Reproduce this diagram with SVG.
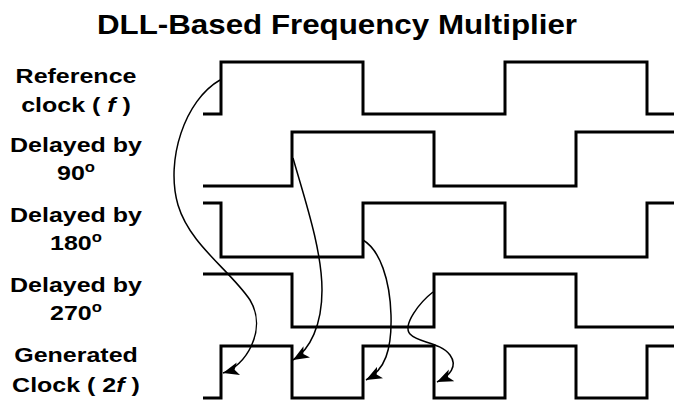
<svg xmlns="http://www.w3.org/2000/svg" width="674" height="403" viewBox="0 0 674 403">
<style>
.t{font-family:"Liberation Sans",Arial,sans-serif;font-weight:bold;fill:#000}
.lbl{font-size:21px;text-anchor:middle}
.sup{font-size:14px}
.w{fill:none;stroke:#000;stroke-width:3;stroke-linejoin:miter;stroke-linecap:butt}
.c{fill:none;stroke:#000;stroke-width:1.5}
</style>
<defs>
<marker id="ah" markerUnits="userSpaceOnUse" markerWidth="18" markerHeight="14" refX="16" refY="6.5" orient="auto">
<path d="M0,0 L16,6.5 L0,13 L4,6.5 z" fill="#000"/>
</marker>
</defs>
<rect width="674" height="403" fill="#fff"/>
<text class="t" x="337" y="34" font-size="28" text-anchor="middle" textLength="480" lengthAdjust="spacingAndGlyphs">DLL-Based Frequency Multiplier</text>

<g id="ref">
<g transform="translate(76,0) scale(1.19,1)"><text class="t lbl" x="0" y="83">Reference</text><text class="t lbl" x="0" y="112">clock ( <tspan font-style="italic">f</tspan> )</text></g>
<path class="w" d="M203,114 H221 V62 H363 V114 H505 V62 H647 V114 H676"/>
</g>
<g id="d90">
<g transform="translate(76,0) scale(1.19,1)"><text class="t lbl" x="0" y="152">Delayed by</text><text class="t lbl" x="0" y="180">90<tspan class="sup" dy="-8">o</tspan></text></g>
<path class="w" d="M203,186 H292 V132 H434 V186 H576 V132 H676"/>
</g>
<g id="d180">
<g transform="translate(76,0) scale(1.19,1)"><text class="t lbl" x="0" y="222">Delayed by</text><text class="t lbl" x="0" y="250">180<tspan class="sup" dy="-8">o</tspan></text></g>
<path class="w" d="M203,203 H221 V257 H363 V203 H505 V257 H647 V203 H676"/>
</g>
<g id="d270">
<g transform="translate(76,0) scale(1.19,1)"><text class="t lbl" x="0" y="292">Delayed by</text><text class="t lbl" x="0" y="320">270<tspan class="sup" dy="-8">o</tspan></text></g>
<path class="w" d="M203,274 H292 V327 H434 V274 H576 V327 H676"/>
</g>
<g id="gen">
<g transform="translate(76,0) scale(1.19,1)"><text class="t lbl" x="0" y="362">Generated</text><text class="t lbl" x="0" y="392">Clock ( 2<tspan font-style="italic">f</tspan> )</text></g>
<path class="w" d="M203,398 H221 V346 H292 V398 H363 V346 H434 V398 H505 V346 H576 V398 H647 V346 H676"/>
</g>

<g id="connectors">
<path class="c" marker-end="url(#ah)" d="M220,80 C185,100 165,160 178,205 C190,245 230,270 250,300 C268,330 245,367 223,373"/>
<path class="c" marker-end="url(#ah)" d="M293,158 C305,200 322,250 322,290 C322,325 310,350 293,360"/>
<path class="c" marker-end="url(#ah)" d="M363,240 C380,250 390,280 391,315 C392,350 385,370 366,380"/>
<path class="c" marker-end="url(#ah)" d="M433,292 C420,302 402,325 410,334 C418,343 440,342 450,355 C458,366 450,376 437,382"/>
</g>
</svg>
